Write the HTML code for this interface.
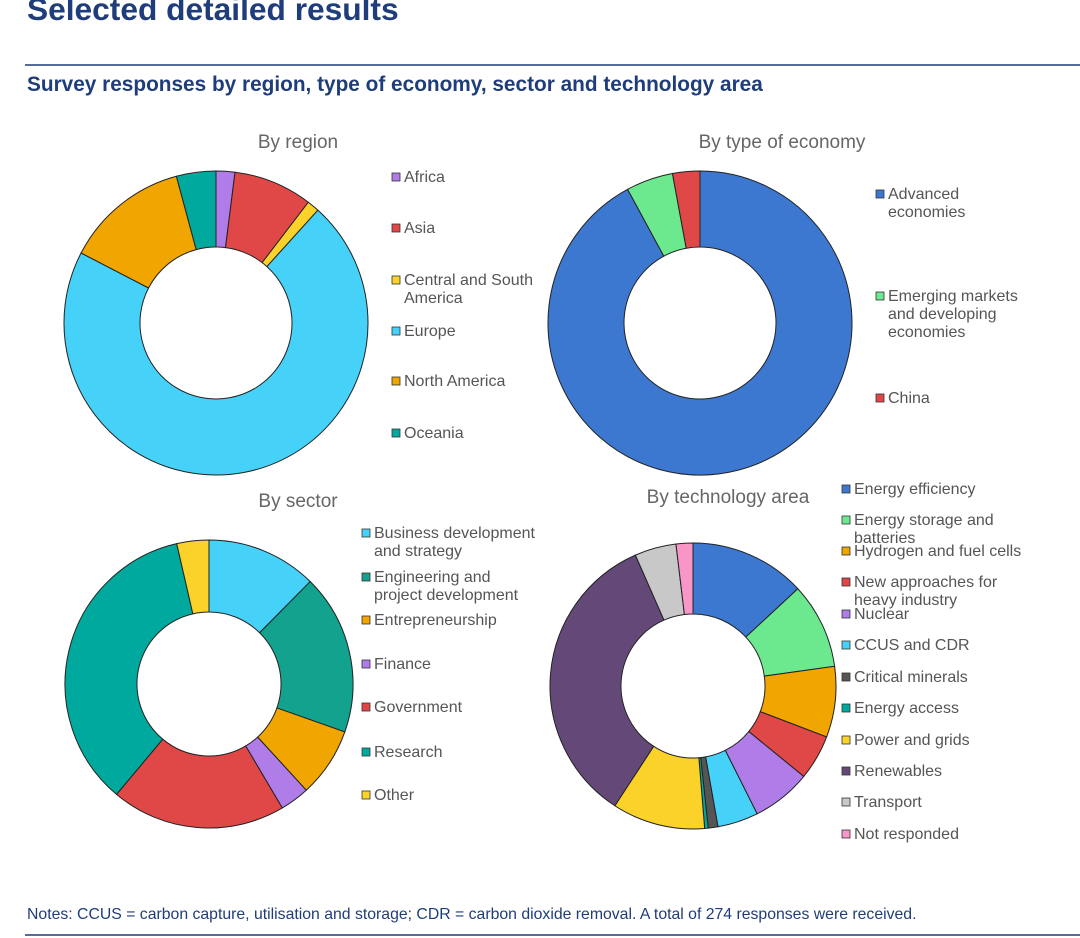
<!DOCTYPE html>
<html><head><meta charset="utf-8"><style>
body{margin:0;background:#fff;font-family:"Liberation Sans",sans-serif}
svg{display:block}
</style></head><body>
<svg id="c" width="1080" height="938" xmlns="http://www.w3.org/2000/svg">
<text x="27" y="20" font-size="31.7" font-weight="bold" fill="#1f3d7a">Selected detailed results</text>
<line x1="25" y1="65" x2="1080" y2="65" stroke="#1f3d7a" stroke-width="1.5"/>
<text x="27" y="91" font-size="20.8" font-weight="bold" fill="#1f3d7a">Survey responses by region, type of economy, sector and technology area</text>
<text x="27" y="919" font-size="15.8" fill="#1f3d7a">Notes: CCUS = carbon capture, utilisation and storage; CDR = carbon dioxide removal. A total of 274 responses were received.</text>
<line x1="25" y1="935" x2="1080" y2="935" stroke="#1f3d7a" stroke-width="1.5"/>
<g id="charts"></g>
</svg>
<script>
const regionLabels=["Africa","Asia","Central and South|America","Europe","North America","Oceania"];
const regionValues=[2,8.4,1.3,71,13.2,4.2];
const economyLabels=["Advanced|economies","Emerging markets|and developing|economies","China"];
const economyValues=[92.1,5,2.9];
const sectorLabels=["Business development|and strategy","Engineering and|project development","Entrepreneurship","Finance","Government","Research","Other"];
const sectorValues=[12.4,18,7.8,3.3,19.6,35.3,3.6];
const techLabels=["Energy efficiency","Energy storage and|batteries","Hydrogen and fuel cells","New approaches for|heavy industry","Nuclear","CCUS and CDR","Critical minerals","Energy access","Power and grids","Renewables","Transport","Not responded"];
const techValues=[13.1,9.7,8,5.1,6.7,4.6,1.1,0.4,10.5,34.2,4.7,1.9];

const regionColors=["#b07ce8","#e04848","#fad22a","#46d2f8","#f0a500","#00a99d"];
const economyColors=["#3c78d0","#6ce98f","#e04848"];
const sectorColors=["#46d2f8","#12a28d","#f0a500","#b07ce8","#e04848","#00a99d","#fad22a"];
const techColors=["#3c78d0","#6ce98f","#f0a500","#e04848","#b07ce8","#46d2f8","#555555","#00a99d","#fad22a","#644978","#c8c8c8","#f996c8"];

const NS="http://www.w3.org/2000/svg";
const root=document.getElementById('charts');
function el(t,a,p){const e=document.createElementNS(NS,t);for(const k in a)e.setAttribute(k,a[k]);(p||root).appendChild(e);return e;}
function pt(cx,cy,r,f){const a=f*2*Math.PI;return [cx+r*Math.sin(a),cy-r*Math.cos(a)];}
function donut(name,title,tx,ty,cx,cy,R,r,vals,cols,labels,lx,lys){
  const g=el('g',{});
  
  
  const t=el('text',{x:tx,y:ty,'font-size':19,fill:'#666','text-anchor':'middle'},g);t.textContent=title;
  
  
  const tot=vals.reduce((a,b)=>a+b,0);let c=0;
  vals.forEach((v,i)=>{
    const f0=c/tot,f1=(c+v)/tot;c+=v;
    const L=(f1-f0)>0.5?1:0;
    const [x0,y0]=pt(cx,cy,R,f0),[x1,y1]=pt(cx,cy,R,f1),[x2,y2]=pt(cx,cy,r,f1),[x3,y3]=pt(cx,cy,r,f0);
    const p=el('path',{d:`M${x0},${y0}A${R},${R} 0 ${L} 1 ${x1},${y1}L${x2},${y2}A${r},${r} 0 ${L} 0 ${x3},${y3}Z`,fill:cols[i],stroke:'#222','stroke-width':1},g);
    
    
  });
  labels.forEach((lab,i)=>{
    const y=lys[i];
    const lg=el('g',{},g);
    
    
    el('rect',{x:lx,y:y-9,width:8,height:8,fill:cols[i],stroke:'#333','stroke-width':0.8},lg);
    lab.split('|').forEach((ln,j)=>{const tt=el('text',{x:lx+12,y:y+j*18,'font-size':16,fill:'#555'},lg);tt.textContent=ln;});
  });
}
donut('region','By region',298,148,216,323,152,76,regionValues,regionColors,regionLabels,392,[182,233,285,336,386,438]);
donut('economy','By type of economy',782,148,700,323,152,76,economyValues,economyColors,economyLabels,876,[199,301,403]);
donut('sector','By sector',298,507,209,684,144,72,sectorValues,sectorColors,sectorLabels,362,[538,582,625,669,712,757,800]);
donut('tech','By technology area',728,503,693,686,143,72,techValues,techColors,techLabels,842,[494,525,556,587,619,650,682,713,745,776,807,839]);
</script>
</body></html>
